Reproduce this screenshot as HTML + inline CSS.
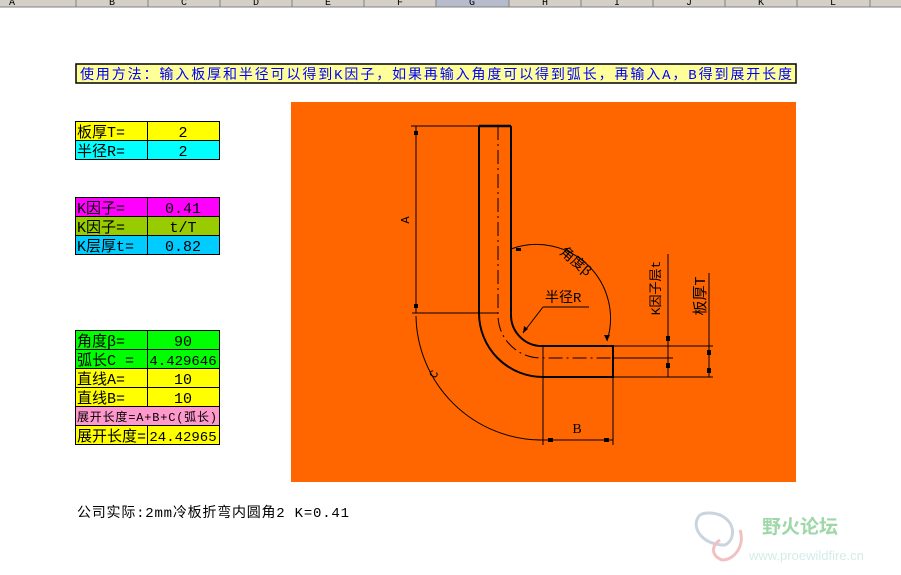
<!DOCTYPE html>
<html><head><meta charset="utf-8"><style>
html,body{margin:0;padding:0;background:#fff;}
svg{display:block;}
.t{font-family:"Liberation Mono","Noto Sans CJK SC",monospace;font-size:14px;}
</style></head><body>
<svg width="901" height="575" xmlns="http://www.w3.org/2000/svg" class="t">
<!-- header -->
<rect x="0" y="0" width="901" height="7" fill="#d4d0c8"/>
<rect x="436" y="0" width="73" height="7" fill="#b6bccc"/>
<line x1="0" y1="7" x2="901" y2="7" stroke="#808080"/>
<g stroke="#808080">
<line x1="76" y1="0" x2="76" y2="7"/><line x1="148" y1="0" x2="148" y2="7"/><line x1="220" y1="0" x2="220" y2="7"/><line x1="292" y1="0" x2="292" y2="7"/><line x1="364" y1="0" x2="364" y2="7"/><line x1="436" y1="0" x2="436" y2="7"/><line x1="509" y1="0" x2="509" y2="7"/><line x1="581" y1="0" x2="581" y2="7"/><line x1="653" y1="0" x2="653" y2="7"/><line x1="725" y1="0" x2="725" y2="7"/><line x1="797" y1="0" x2="797" y2="7"/><line x1="870" y1="0" x2="870" y2="7"/>
</g>
<g font-size="10" fill="#000" text-anchor="middle">
<text x="12" y="5">A</text><text x="112" y="5">B</text><text x="184" y="5">C</text><text x="256" y="5">D</text><text x="328" y="5">E</text><text x="400" y="5">F</text><text x="472" y="5">G</text><text x="545" y="5">H</text><text x="617" y="5">I</text><text x="689" y="5">J</text><text x="761" y="5">K</text><text x="833" y="5">L</text>
</g>
<!-- instruction -->
<rect x="76" y="64" width="720" height="19" fill="#ffff99" stroke="#000" stroke-width="1.5"/>
<text x="80" y="79" fill="#0000ff" textLength="712" lengthAdjust="spacing">使用方法：输入板厚和半径可以得到K因子，如果再输入角度可以得到弧长，再输入A，B得到展开长度</text>
<!-- tables -->
<g stroke="#000" stroke-width="1">
<rect x="75.5" y="121.5" width="72" height="19" fill="#ffff00"/><rect x="147.5" y="121.5" width="72" height="19" fill="#ffff00"/>
<rect x="75.5" y="140.5" width="72" height="19" fill="#00ffff"/><rect x="147.5" y="140.5" width="72" height="19" fill="#00ffff"/>
<rect x="75.5" y="197.5" width="72" height="19" fill="#ff00ff"/><rect x="147.5" y="197.5" width="72" height="19" fill="#ff00ff"/>
<rect x="75.5" y="216.5" width="72" height="19" fill="#99cc00"/><rect x="147.5" y="216.5" width="72" height="19" fill="#99cc00"/>
<rect x="75.5" y="235.5" width="72" height="19" fill="#00ccff"/><rect x="147.5" y="235.5" width="72" height="19" fill="#00ccff"/>
<rect x="75.5" y="330.5" width="72" height="19" fill="#00ff00"/><rect x="147.5" y="330.5" width="72" height="19" fill="#00ff00"/>
<rect x="75.5" y="349.5" width="72" height="19" fill="#00ff00"/><rect x="147.5" y="349.5" width="72" height="19" fill="#00ff00"/>
<rect x="75.5" y="368.5" width="72" height="19" fill="#ffff00"/><rect x="147.5" y="368.5" width="72" height="19" fill="#ffff00"/>
<rect x="75.5" y="387.5" width="72" height="19" fill="#ffff00"/><rect x="147.5" y="387.5" width="72" height="19" fill="#ffff00"/>
<rect x="75.5" y="406.5" width="144" height="19" fill="#ff99cc"/>
<rect x="75.5" y="425.5" width="72" height="19" fill="#ffff00"/><rect x="147.5" y="425.5" width="72" height="19" fill="#ffff00"/>
</g>
<g fill="#000" font-size="15">
<text x="77" y="137">板厚T=</text><text x="183" y="137" text-anchor="middle">2</text>
<text x="77" y="156">半径R=</text><text x="183" y="156" text-anchor="middle">2</text>
<text x="77" y="213">K因子=</text><text x="183" y="213" text-anchor="middle">0.41</text>
<text x="77" y="232">K因子=</text><text x="183" y="232" text-anchor="middle">t/T</text>
<text x="77" y="251">K层厚t=</text><text x="183" y="251" text-anchor="middle">0.82</text>
<text x="77" y="346">角度β=</text><text x="183" y="346" text-anchor="middle">90</text>
<text x="77" y="365">弧长C =</text><text x="183" y="365" text-anchor="middle" font-size="14">4.429646</text>
<text x="77" y="384">直线A=</text><text x="183" y="384" text-anchor="middle">10</text>
<text x="77" y="403">直线B=</text><text x="183" y="403" text-anchor="middle">10</text>
<text x="77" y="421" font-size="12" textLength="140" lengthAdjust="spacing">展开长度=A+B+C(弧长)</text>
<text x="77" y="441">展开长度=</text><text x="183" y="441" text-anchor="middle" font-size="14">24.42965</text>
</g>
<!-- drawing -->
<rect x="291" y="102" width="505" height="380" fill="#ff6600"/>
<g fill="none" stroke="#000">
<path d="M479 126 L511 126" stroke-width="2.5"/>
<path d="M479 126 L479 313 A64 64 0 0 0 543 377 L613 377 L613 346 L543 346 A31 31 0 0 1 511 315 L511 126" stroke-width="2"/>
<path d="M498 126 L498 316 A43 43 0 0 0 541 358 L613 358" stroke-width="1" stroke-dasharray="14 4 2 4"/>
<g stroke-width="1">
<line x1="411" y1="126" x2="479" y2="126"/>
<line x1="412" y1="313" x2="498" y2="313"/>
<line x1="416" y1="126" x2="416" y2="313"/>
<path d="M416 316 A126 126 0 0 0 542 440"/>
<line x1="543" y1="346" x2="543" y2="445"/>
<line x1="613" y1="377" x2="613" y2="445"/>
<line x1="537" y1="440" x2="613" y2="440"/>
<path d="M511 249 A74 74 0 0 1 607 341"/>
<line x1="589" y1="307" x2="543" y2="307"/>
<line x1="543" y1="307" x2="523" y2="333"/>
<line x1="613" y1="346" x2="713" y2="346"/>
<line x1="613" y1="358" x2="673" y2="358"/>
<line x1="613" y1="377" x2="713" y2="377"/>
<line x1="668" y1="254" x2="668" y2="377"/>
<line x1="709" y1="273" x2="709" y2="377"/>
</g>
</g>
<g fill="#000">
<rect x="414" y="131" width="4" height="4"/><rect x="414" y="304" width="4" height="4"/>
<rect x="548" y="438" width="5" height="4"/><rect x="604" y="438" width="5" height="4"/>
<rect x="666" y="336" width="4" height="5"/><rect x="666" y="363" width="4" height="5"/>
<rect x="707" y="350" width="4" height="5"/><rect x="707" y="368" width="4" height="5"/>
<rect x="516" y="248" width="5" height="3"/><polygon points="604,335 610,335 607,341"/>
<polygon points="523,333 524,326 528,329"/>
<text x="577" y="433" text-anchor="middle" font-family="Liberation Serif" font-size="14">B</text>
<text transform="translate(409,220) rotate(-90)" text-anchor="middle" font-size="12">A</text>
<text transform="translate(437,376) rotate(-60)" text-anchor="middle" font-size="12">C</text>
<text x="545" y="302" font-size="14">半径R</text>
<text transform="translate(573,265) rotate(40)" text-anchor="middle" font-size="14">角度β</text>
<text transform="translate(660,288) rotate(-90)" text-anchor="middle" font-size="13">K因子层t</text>
<text transform="translate(705,296) rotate(-90)" text-anchor="middle" font-size="15">板厚T</text>
</g>
<!-- footer -->
<text x="77" y="517" fill="#000" textLength="272" lengthAdjust="spacing">公司实际:2mm冷板折弯内圆角2 K=0.41</text>
<!-- watermark -->
<g fill="none" stroke-width="3" opacity="0.6">
<path d="M700 515 C690 525 700 545 725 545 C735 540 735 525 725 518 C718 512 705 512 700 515" stroke="#a8b8cc"/>
<path d="M740 530 C745 545 735 560 722 560 C710 555 712 545 720 540" stroke="#e89898"/>
</g>
<text x="762" y="533" font-family="Liberation Sans,Noto Sans CJK SC,sans-serif" font-size="19" font-weight="bold" fill="#9ed8a8">野火论坛</text>
<text x="749" y="560" font-family="Liberation Sans,sans-serif" font-size="13" fill="#d4ece8">www.proewildfire.cn</text>
</svg>
</body></html>
